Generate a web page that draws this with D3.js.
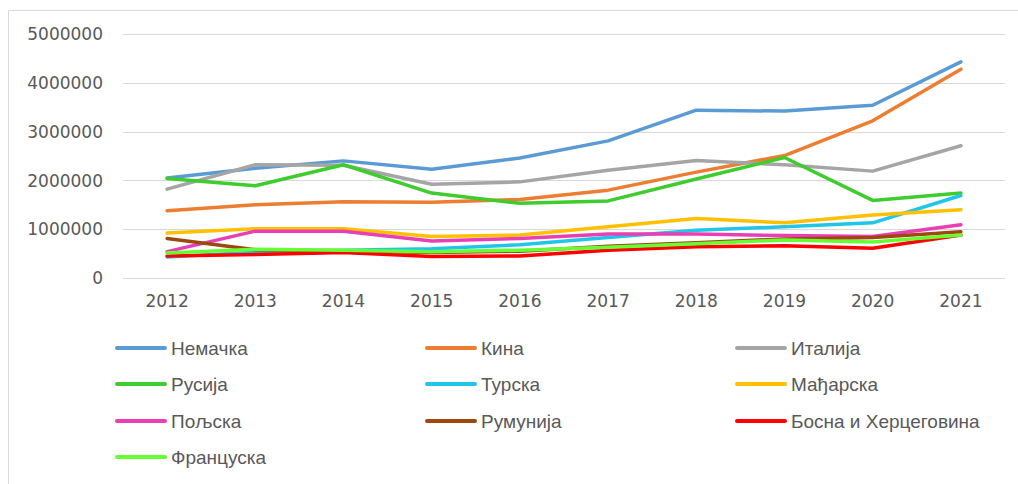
<!DOCTYPE html>
<html>
<head>
<meta charset="utf-8">
<script src="https://cdn.jsdelivr.net/npm/d3@7"></script>
<style>
body { margin:0; background:#fff; }
svg { display:block; }
</style>
</head>
<body>
<svg width="1018" height="484"></svg>
<script>
// years on the x axis
var years = ["2012","2013","2014","2015","2016","2017","2018","2019","2020","2021"];
var yTicks = [0,1000000,2000000,3000000,4000000,5000000];

var names = ["Немачка","Кина","Италија","Русија","Турска","Мађарска","Пољска","Румунија","Босна и Херцеговина","Француска"];
var colors = ["#5b9bd5","#ed7d31","#a5a5a5","#3fcc2e","#1fc6e8","#ffc000","#e83fb4","#9e480e","#ff0000","#66ff33"];

var nemacka   = [2050000,2250000,2400000,2230000,2460000,2810000,3440000,3420000,3540000,4430000];
var kina      = [1380000,1500000,1560000,1550000,1610000,1800000,2170000,2510000,3220000,4280000];
var italija   = [1820000,2320000,2310000,1920000,1970000,2210000,2410000,2320000,2190000,2710000];
var rusija    = [2040000,1890000,2320000,1740000,1530000,1580000,2030000,2470000,1590000,1740000];
var turska    = [430000,530000,570000,600000,680000,830000,980000,1050000,1130000,1690000];
var madjarska = [920000,1010000,1010000,850000,880000,1050000,1220000,1130000,1290000,1400000];
var poljska   = [540000,960000,960000,760000,810000,900000,900000,870000,850000,1090000];
var rumunija  = [810000,580000,560000,520000,550000,650000,720000,800000,830000,950000];
var bosna     = [450000,480000,520000,440000,450000,570000,640000,660000,610000,880000];
var francuska = [510000,590000,570000,540000,570000,630000,700000,780000,740000,880000];

var series = [nemacka,kina,italija,rusija,turska,madjarska,poljska,rumunija,bosna,francuska];

var svg = d3.select("svg");

// outer frame (only top and left edge visible in the picture)
svg.append("path")
	.attr("d","M8.5,484 V10.5 H1018")
	.attr("fill","none")
	.attr("stroke","#d9d9d9")
	.attr("stroke-width",1);

var x = d3.scaleBand().domain(years).range([123,1005]);
var y = d3.scaleLinear().domain([0,5000000]).range([278,34]);

// gridlines
svg.append("g").selectAll("line")
	.data(yTicks)
	.join("line")
	.attr("x1",123).attr("x2",1005)
	.attr("y1",function(d){ return Math.round(y(d))+0.5; })
	.attr("y2",function(d){ return Math.round(y(d))+0.5; })
	.attr("stroke","#d9d9d9")
	.attr("stroke-width",1);

// y labels
svg.append("g").selectAll("text")
	.data(yTicks)
	.join("text")
	.attr("x",103)
	.attr("y",function(d){ return y(d); })
	.attr("dy","0.36em")
	.attr("text-anchor","end")
	.attr("font-family","DejaVu Sans, sans-serif")
	.attr("font-size",17)
	.attr("fill","#595959")
	.text(function(d){ return d; });

// x labels
svg.append("g").selectAll("text")
	.data(years)
	.join("text")
	.attr("x",function(d){ return x(d)+x.bandwidth()/2; })
	.attr("y",307)
	.attr("text-anchor","middle")
	.attr("font-family","DejaVu Sans, sans-serif")
	.attr("font-size",17)
	.attr("fill","#595959")
	.text(function(d){ return d; });

var line = d3.line()
	.x(function(d,i){ return x(years[i])+x.bandwidth()/2; })
	.y(function(d){ return y(d); });

svg.append("g").selectAll("path")
	.data(series)
	.join("path")
	.attr("d",line)
	.attr("fill","none")
	.attr("stroke",function(d,i){ return colors[i]; })
	.attr("stroke-width",3.5)
	.attr("stroke-linejoin","round")
	.attr("stroke-linecap","round");

// legend, 3 columns
var colX = [117,427,737];
var rowY = [348,384,421,457];

var leg = svg.append("g").selectAll("g")
	.data(names)
	.join("g")
	.attr("transform",function(d,i){ return "translate(" + colX[i%3] + "," + rowY[Math.floor(i/3)] + ")"; });

leg.append("line")
	.attr("x1",0).attr("x2",48)
	.attr("y1",0).attr("y2",0)
	.attr("stroke",function(d,i){ return colors[i]; })
	.attr("stroke-width",4)
	.attr("stroke-linecap","round");

leg.append("text")
	.attr("x",54)
	.attr("y",0)
	.attr("dy","0.36em")
	.attr("font-family","Liberation Sans, sans-serif")
	.attr("font-size",19)
	.attr("fill","#595959")
	.text(function(d){ return d; });
</script>
</body>
</html>
